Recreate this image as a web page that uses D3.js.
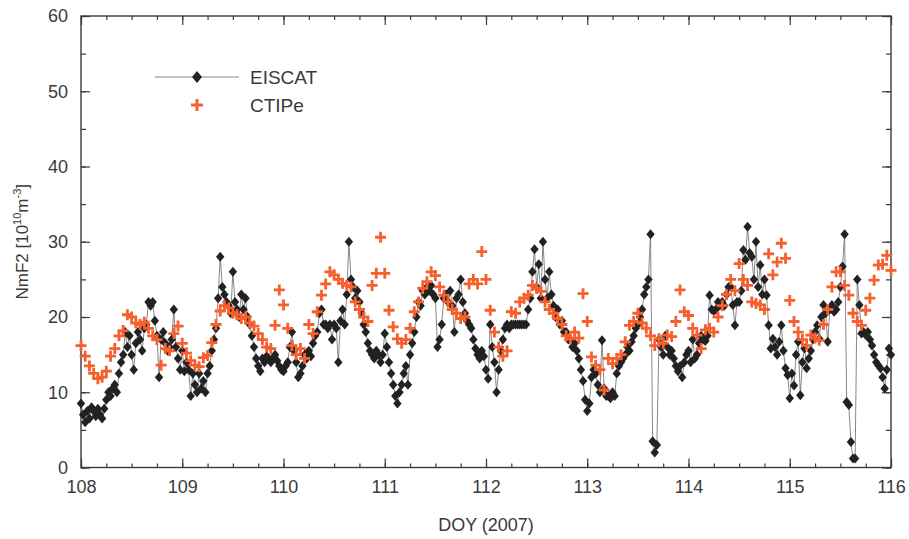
<!DOCTYPE html>
<html>
<head>
<meta charset="utf-8">
<script src="https://cdn.jsdelivr.net/npm/d3@7"></script>
<style>
  body { margin: 0; background: #fff; }
  text { font-family: "Liberation Sans", Arial, sans-serif; fill: #3a3a3a; }
</style>
</head>
<body>
<script>
const width = 909;
const height = 539;
const margin = { top: 16, right: 18, bottom: 71.5, left: 81 };

// EISCAT NmF2 (10^10 m^-3), half-hourly from DOY 108.0
const eiscatNmF2 = [
  // 108
  8.5,7.0, 6.0,7.5, 6.5,8.0, 7.5,6.8, 7.8,7.0, 6.5,7.8, 9.0,10.0, 9.5,10.5,
  11.0,10.0, 12.5,14.0, 15.0,18.0, 16.0,17.5, 15.0,13.0, 16.5,18.0, 17.0,15.5, 18.5,19.0,
  22.0,21.5, 22.0,19.5, 17.5,12.0, 17.0,18.0, 16.5,15.5, 16.0,17.0, 21.0,16.0, 14.5,13.0,
  // 109
  15.5,12.8, 14.0,13.0, 9.5,12.5, 11.0,10.0, 12.5,10.5, 11.5,10.0, 12.5,13.5, 15.5,17.0,
  18.5,22.5, 28.0,24.0, 23.0,22.0, 21.5,20.5, 26.0,22.0, 21.0,20.0, 23.0,21.0, 22.5,20.0,
  19.0,17.5, 16.0,14.5, 13.5,12.8, 14.5,14.0, 14.8,14.5, 14.0,14.5, 15.0,14.2, 13.5,13.0,
  // 110
  12.8,13.5, 14.0,16.0, 18.0,15.5, 14.0,12.0, 12.5,13.5, 15.0,14.5, 15.5,14.8, 16.5,17.5,
  18.0,20.5, 21.0,19.0, 19.0,18.5, 19.0,17.0, 19.0,18.5, 14.0,19.5, 21.0,19.0, 23.0,30.0,
  25.0,24.0, 22.5,23.5, 22.0,20.5, 19.0,18.0, 16.5,15.5, 15.0,14.5, 15.5,15.0, 14.0,15.0,
  // 111
  17.8,16.0, 14.0,12.5, 11.0,9.5, 8.5,10.0, 11.0,12.5, 13.5,11.0, 15.0,16.5, 18.0,20.0,
  22.0,21.5, 23.5,23.0, 24.0,23.5, 24.2,23.0, 22.5,16.0, 17.0,19.0, 22.5,23.0, 22.0,23.5,
  21.5,18.0, 22.5,23.0, 25.0,22.0, 20.5,19.5, 19.0,18.5, 17.0,15.8, 15.0,14.5, 15.5,14.8,
  // 112
  13.0,11.8, 19.0,16.0, 14.0,10.0, 13.0,15.5, 17.0,18.5, 19.0,18.5, 19.0,19.0, 19.0,19.0,
  19.0,19.0, 19.0,19.0, 21.0,22.5, 26.0,29.0, 24.0,27.0, 22.5,30.0, 25.0,22.5, 26.0,23.0,
  21.5,20.0, 21.0,19.0, 19.5,18.0, 18.0,17.0, 17.0,16.0, 16.5,15.5, 14.5,13.0, 11.5,9.0,
  // 113
  7.5,8.5, 12.0,13.0, 12.5,11.0, 10.0,16.9, 10.5,9.5, 9.5,9.2, 10.0,9.5, 12.5,13.5,
  14.0,14.5, 15.0,16.0, 15.5,16.7, 17.5,18.5, 19.0,20.0, 21.0,23.0, 24.0,25.0, 31.0,3.5,
  2.0,3.0, 17.0,16.0, 15.0,17.5, 16.0,15.0, 15.5,14.5, 13.5,12.8, 13.5,12.0, 14.0,15.0,
  // 114
  15.5,14.0, 17.0,14.5, 15.0,16.5, 17.5,17.0, 16.8,17.5, 22.9,21.0, 20.8,21.0, 22.0,21.6,
  22.0,21.5, 23.0,24.0, 24.0,21.6, 18.9,22.0, 22.0,23.5, 28.9,27.6, 32.0,28.5, 28.0,25.0,
  30.0,24.0, 26.9,23.0, 25.0,22.9, 18.9,15.8, 17.1,16.0, 15.0,16.7, 18.9,15.5, 13.2,12.3,
  // 115
  9.2,12.5, 10.9,15.0, 16.7,9.6, 14.0,15.8, 13.2,14.5, 15.5,17.0, 18.0,18.9, 17.1,20.0,
  21.6,20.5, 16.7,21.0, 21.6,20.7, 21.0,22.0, 24.0,26.7, 31.0,8.7, 8.3,3.4, 1.2,1.2,
  25.0,21.6, 17.8,18.0, 17.6,18.0, 17.0,16.2, 15.0,14.0, 13.6,13.2, 12.0,10.5, 13.0,15.8,
  15.0
];

// CTIPe NmF2 (10^10 m^-3), hourly from DOY 108.0
const ctipeNmF2 = [
  16.2,14.8,13.5,12.5,11.8,12.0,12.8,14.8,15.8,17.5,18.2,20.3,20.0,19.2,19.0,19.3,18.5,17.5,17.0,13.6,15.8,15.5,17.8,18.8,
  16.5,15.2,14.2,13.6,13.4,14.6,14.9,16.6,19.0,20.8,21.5,21.2,20.5,20.3,19.8,20.0,19.2,18.8,17.8,17.0,16.0,15.8,18.9,23.6,
  21.6,18.5,16.2,15.0,15.8,14.5,19.0,17.8,20.7,22.9,24.4,26.0,25.6,25.0,24.5,24.2,24.0,22.0,21.0,20.0,19.4,24.2,25.8,30.6,
  25.8,20.9,18.7,17.1,16.5,17.0,18.5,20.7,22.0,23.8,24.7,26.0,25.5,24.0,22.9,22.0,21.0,20.5,19.8,20.0,24.4,25.0,24.4,28.7,
  25.0,20.9,18.0,16.0,14.8,15.5,20.7,20.5,22.0,22.5,22.9,24.2,23.8,23.4,22.0,21.0,20.5,19.8,19.0,17.5,17.1,18.0,17.2,23.1,
  19.4,14.7,13.6,13.0,10.3,14.5,13.8,14.5,15.0,16.7,18.9,19.4,20.5,19.2,18.5,17.5,16.2,17.1,16.5,17.6,17.4,19.4,23.6,20.7,
  20.2,18.5,17.6,15.8,18.3,18.5,18.0,20.0,21.5,23.0,25.0,23.5,27.1,25.0,24.2,22.0,21.8,21.6,21.0,28.4,25.6,27.3,29.8,27.8,
  22.2,19.4,18.0,17.0,16.2,17.6,17.2,16.9,19.0,21.0,24.0,26.0,26.0,24.2,22.9,20.5,19.4,18.9,20.9,22.5,24.9,26.9,27.0,28.2,
  26.2
];

const doyTicks = [108, 109, 110, 111, 112, 113, 114, 115, 116];
const nmf2Ticks = [0, 10, 20, 30, 40, 50, 60];
const seriesNames = ["EISCAT", "CTIPe"];

const startDoy = 108;
const eiscat = eiscatNmF2.map((v, i) => ({ doy: startDoy + i / 48, v }));
const ctipe = ctipeNmF2.map((v, i) => ({ doy: startDoy + i / 24, v }));

const svg = d3.select("body").append("svg")
  .attr("width", width)
  .attr("height", height);

const x = d3.scaleLinear().domain([108, 116]).range([margin.left, width - margin.right]);
const y = d3.scaleLinear().domain([0, 60]).range([height - margin.bottom, margin.top]);

const frameColor = "#3a3a3a";
const minorX = d3.range(108, 116.01, 0.25);
const minorY = d3.range(0, 60.01, 5);

// ticks pointing into the plot on all four sides
function styleAxis(g) {
  g.select(".domain").remove();
  g.selectAll("line").attr("stroke", frameColor).attr("stroke-width", 1.2);
  g.selectAll("text").attr("font-size", 18).attr("fill", "#3a3a3a");
}

svg.append("g")
  .attr("transform", `translate(0,${y(0)})`)
  .call(d3.axisBottom(x).tickValues(minorX).tickSize(-4).tickFormat(""))
  .call(styleAxis);
svg.append("g")
  .attr("transform", `translate(0,${y(0)})`)
  .call(d3.axisBottom(x).tickValues(doyTicks).tickSize(-9).tickPadding(13).tickFormat(d3.format("d")))
  .call(styleAxis);
svg.append("g")
  .attr("transform", `translate(0,${y(60)})`)
  .call(d3.axisTop(x).tickValues(minorX).tickSize(-4).tickFormat(""))
  .call(styleAxis);
svg.append("g")
  .attr("transform", `translate(0,${y(60)})`)
  .call(d3.axisTop(x).tickValues(doyTicks).tickSize(-9).tickFormat(""))
  .call(styleAxis);

svg.append("g")
  .attr("transform", `translate(${x(108)},0)`)
  .call(d3.axisLeft(y).tickValues(minorY).tickSize(-5).tickFormat(""))
  .call(styleAxis);
svg.append("g")
  .attr("transform", `translate(${x(108)},0)`)
  .call(d3.axisLeft(y).tickValues(nmf2Ticks).tickSize(-9).tickPadding(13))
  .call(styleAxis);
svg.append("g")
  .attr("transform", `translate(${x(116)},0)`)
  .call(d3.axisRight(y).tickValues(minorY).tickSize(-5).tickFormat(""))
  .call(styleAxis);
svg.append("g")
  .attr("transform", `translate(${x(116)},0)`)
  .call(d3.axisRight(y).tickValues(nmf2Ticks).tickSize(-9).tickFormat(""))
  .call(styleAxis);

svg.append("rect")
  .attr("x", x(108)).attr("y", y(60))
  .attr("width", x(116) - x(108)).attr("height", y(0) - y(60))
  .attr("fill", "none").attr("stroke", frameColor).attr("stroke-width", 1.4);

const plot = svg.append("g");

const diamond = "M0,-5L4.2,0L0,5L-4.2,0Z";
const cross = "M-5.5,0H5.5M0,-5.5V5.5";
const red = "#f5602e";

plot.append("path")
  .datum(eiscat)
  .attr("fill", "none")
  .attr("stroke", "#6a6a6a")
  .attr("stroke-width", 0.8)
  .attr("d", d3.line().x((d) => x(d.doy)).y((d) => y(d.v)));

plot.selectAll(".eis")
  .data(eiscat)
  .join("path")
  .attr("class", "eis")
  .attr("d", diamond)
  .attr("fill", "#222")
  .attr("transform", (d) => `translate(${x(d.doy)},${y(d.v)})`);

plot.selectAll(".ctp")
  .data(ctipe)
  .join("path")
  .attr("class", "ctp")
  .attr("d", cross)
  .attr("stroke", red)
  .attr("stroke-width", 2.8)
  .attr("fill", "none")
  .attr("transform", (d) => `translate(${x(d.doy)},${y(d.v)})`);

// legend
const legend = svg.append("g").attr("transform", "translate(197,77)");
legend.append("line")
  .attr("x1", -42).attr("x2", 42)
  .attr("stroke", "#6a6a6a").attr("stroke-width", 0.8);
legend.append("path").attr("d", "M0,-6L5,0L0,6L-5,0Z").attr("fill", "#222");
legend.append("path").attr("d", "M-6,0H6M0,-6V6")
  .attr("transform", "translate(0,28)")
  .attr("stroke", red).attr("stroke-width", 3).attr("fill", "none");
legend.selectAll("text")
  .data(seriesNames)
  .join("text")
  .attr("x", 53)
  .attr("y", (d, i) => i * 28 + 7)
  .attr("font-size", 19)
  .text((d) => d);

// axis titles
svg.append("text")
  .attr("x", (x(108) + x(116)) / 2)
  .attr("y", 531)
  .attr("text-anchor", "middle")
  .attr("font-size", 18)
  .text("DOY (2007)");

const yTitle = svg.append("text")
  .attr("transform", `translate(28,${(y(0) + y(60)) / 2}) rotate(-90)`)
  .attr("text-anchor", "middle")
  .attr("font-size", 17);
yTitle.append("tspan").text("NmF2 [10");
yTitle.append("tspan").attr("font-size", 11).attr("dy", -7).text("10");
yTitle.append("tspan").attr("dy", 7).text("m");
yTitle.append("tspan").attr("font-size", 11).attr("dy", -7).text("-3");
yTitle.append("tspan").attr("dy", 7).text("]");
</script>
</body>
</html>
